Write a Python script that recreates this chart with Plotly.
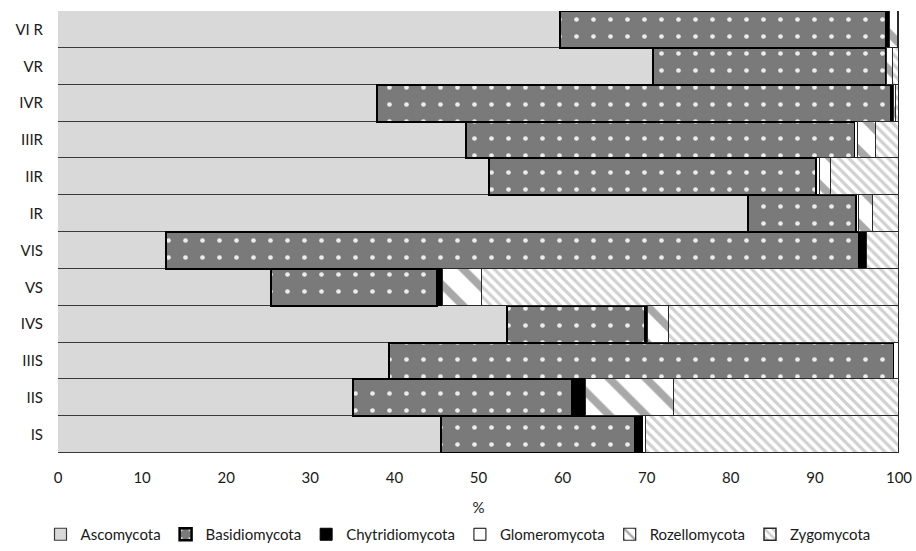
import plotly.graph_objects as go

samples = ["IS", "IIS", "IIIS", "IVS", "VS", "VIS", "IR", "IIR", "IIIR", "IVR", "VR", "VI R"]
ascomycota      = [45.5, 35.1, 39.3, 53.4, 25.3, 12.8, 82.1, 51.2, 48.5, 37.9, 70.8, 59.7]
basidiomycota   = [23.1, 26.0, 60.1, 16.4, 19.8, 82.4, 12.8, 38.9, 46.3, 61.2, 27.6, 38.8]
chytridiomycota = [1.0, 1.7, 0.0, 0.4, 0.5, 1.0, 0.1, 0.1, 0.0, 0.2, 0.0, 0.3]
glomeromycota   = [0.3, 0.0, 0.6, 0.0, 0.2, 0.0, 0.3, 0.4, 0.3, 0.1, 0.2, 0.1]
rozellomycota   = [0.0, 10.4, 0.0, 2.5, 4.6, 0.0, 1.6, 1.3, 2.2, 0.3, 0.7, 1.0]
zygomycota      = [30.1, 26.8, 0.0, 27.3, 49.6, 3.8, 3.1, 8.1, 2.7, 0.3, 0.7, 0.1]

series = [
    ("Ascomycota", ascomycota,
     dict(color="#d9d9d9", line=dict(color="#3a3a3a", width=1.2))),
    ("Basidiomycota", basidiomycota,
     dict(color="#7a7a7a", line=dict(color="#000000", width=2.5),
          pattern=dict(shape=".", bgcolor="#7a7a7a", fgcolor="#ececec",
                       size=17, solidity=0.06, fillmode="replace"))),
    ("Chytridiomycota", chytridiomycota,
     dict(color="#000000", line=dict(color="#000000", width=1))),
    ("Glomeromycota", glomeromycota,
     dict(color="#ffffff", line=dict(color="#000000", width=1))),
    ("Rozellomycota", rozellomycota,
     dict(color="#ffffff", line=dict(color="#2a2a2a", width=1.2),
          pattern=dict(shape="\\", bgcolor="#ffffff", fgcolor="#a8a8a8",
                       size=26, solidity=0.3, fillmode="replace"))),
    ("Zygomycota", zygomycota,
     dict(color="#ffffff", line=dict(color="#2a2a2a", width=1.5),
          pattern=dict(shape="\\", bgcolor="#ffffff", fgcolor="#d0d0d0",
                       size=7, solidity=0.45, fillmode="replace"))),
]

fig = go.Figure()
for name, vals, marker in series:
    fig.add_trace(go.Bar(
        y=samples, x=vals, name=name, orientation="h",
        marker=marker, hoverinfo="x+y+name",
    ))

font_family = "Lato, 'Open Sans', sans-serif"
fig.update_layout(
    width=916, height=551,
    barmode="stack", bargap=0,
    paper_bgcolor="white", plot_bgcolor="white",
    margin=dict(l=58, r=17, t=11, b=98, autoexpand=False),
    font=dict(family=font_family, size=15, color="#1a1a1a"),
    xaxis=dict(range=[0, 100], dtick=10, showgrid=False, zeroline=False,
               showline=False, ticks="", ticklen=0, automargin=False,
               ticklabelstandoff=14,
               tickfont=dict(size=15), title=dict(text="%", font=dict(size=15), standoff=17)),
    yaxis=dict(categoryorder="array", categoryarray=samples, showgrid=False,
               zeroline=False, showline=False, ticks="", ticklabelstandoff=14,
               automargin=False, tickfont=dict(size=15)),
    legend=dict(orientation="h", x=0.5, xanchor="center", xref="container",
                y=-0.008, yanchor="bottom", yref="container",
                font=dict(size=15), itemwidth=30, traceorder="normal",
                tracegroupgap=0, itemclick=False),
    showlegend=True,
)

fig.write_html("out.html",
               config={"displayModeBar": False},
               post_script="document.body.style.margin='0';document.body.style.overflow='hidden';")
